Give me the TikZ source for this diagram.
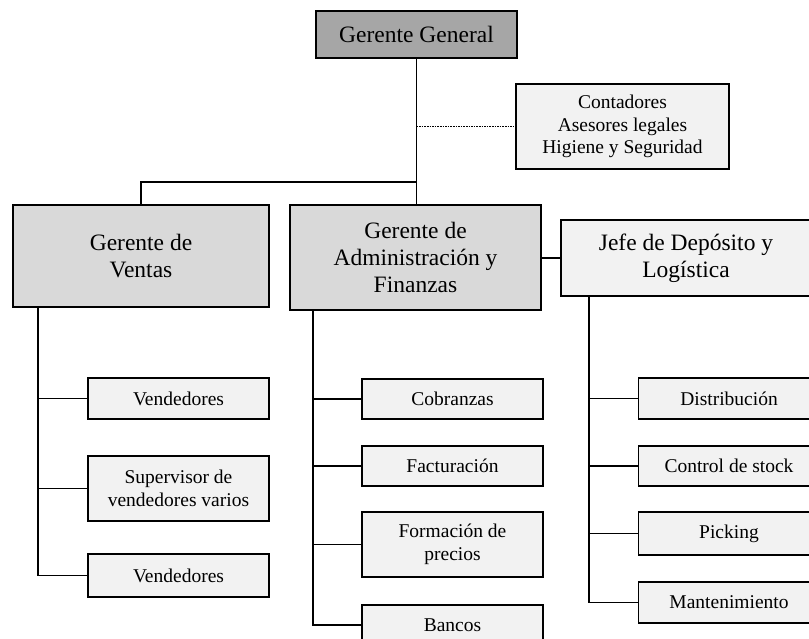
\documentclass[tikz,border=0pt]{standalone}
\usepackage{fontspec}
\setmainfont{Liberation Serif}
\definecolor{darkfill}{HTML}{A6A6A6}
\definecolor{midfill}{HTML}{D9D9D9}
\definecolor{lightfill}{HTML}{F2F2F2}
\begin{document}
\begin{tikzpicture}[x=1pt,y=-1pt,
  box/.style={draw, line width=1.6pt, inner sep=0pt, outer sep=0pt, align=center},
  big/.style={box, font=\fontsize{23.5}{27}\selectfont},
  small/.style={box, fill=lightfill, font=\fontsize{19.5}{22.5}\selectfont},
  conn/.style={line width=1.6pt}]
\useasboundingbox (0,0) rectangle (809,638);
\clip (0,0) rectangle (809,638);
\fill[white] (0,0) rectangle (809,638);
% managers
\node[big, fill=darkfill, minimum width=201pt, minimum height=47pt] (gg) at (416.5,34.5) {Gerente General};
\node[small, minimum width=213pt, minimum height=85pt] (cont) at (622.5,126.5) {Contadores\\Asesores legales\\Higiene y Seguridad};
\node[big, fill=midfill, minimum width=256pt, minimum height=102pt] (ventas) at (141,256) {Gerente de\\Ventas};
\node[big, fill=midfill, minimum width=251pt, minimum height=105pt] (admin) at (415.5,257.5) {Gerente de\\Administración y\\Finanzas};
\node[big, fill=lightfill, minimum width=250pt, minimum height=76pt] (jefe) at (686,258) {Jefe de Depósito y\\Logística};
% ventas children
\node[small, minimum width=181pt, minimum height=41pt] (v1) at (178.5,398.5) {Vendedores};
\node[small, minimum width=181pt, minimum height=65pt] (v2) at (178.5,488.5) {Supervisor de\\vendedores varios};
\node[small, minimum width=181pt, minimum height=43pt] (v3) at (178.5,575.5) {Vendedores};
% admin children
\node[small, minimum width=181pt, minimum height=40pt] (a1) at (452.5,399) {Cobranzas};
\node[small, minimum width=181pt, minimum height=40pt] (a2) at (452.5,466) {Facturación};
\node[small, minimum width=181pt, minimum height=65pt] (a3) at (452.5,544.5) {Formación de\\precios};
\node[small, minimum width=181pt, minimum height=40pt] (a4) at (452.5,625) {Bancos};
% jefe children
\node[small, minimum width=181pt, minimum height=41pt] (j1) at (729,398.5) {Distribución};
\node[small, minimum width=181pt, minimum height=40pt] (j2) at (729,466) {Control de stock};
\node[small, minimum width=181pt, minimum height=43pt] (j3) at (729,533.5) {Picking};
\node[small, minimum width=181pt, minimum height=41pt] (j4) at (729,602.5) {Mantenimiento};
% connectors
\coordinate (jn) at (416.5,182);
\draw[conn] (gg.south) -- (gg.south |- admin.north);
\draw[conn, densely dotted] (gg.south |- cont.west) -- (cont.west);
\draw[conn] (jn) -| (ventas.north);
\draw[conn] (jefe.west) -- (jefe.west -| admin.east);
\coordinate (vx) at (38,307);
\draw[conn] (vx) |- (v3.west);
\draw[conn] (vx |- v1.west) -- (v1.west);
\draw[conn] (vx |- v2.west) -- (v2.west);
\coordinate (ax) at (313,310);
\draw[conn] (ax) |- (a4.west);
\draw[conn] (ax |- a1.west) -- (a1.west);
\draw[conn] (ax |- a2.west) -- (a2.west);
\draw[conn] (ax |- a3.west) -- (a3.west);
\coordinate (jx) at (589,296);
\draw[conn] (jx) |- (j4.west);
\draw[conn] (jx |- j1.west) -- (j1.west);
\draw[conn] (jx |- j2.west) -- (j2.west);
\draw[conn] (jx |- j3.west) -- (j3.west);
\end{tikzpicture}
\end{document}
